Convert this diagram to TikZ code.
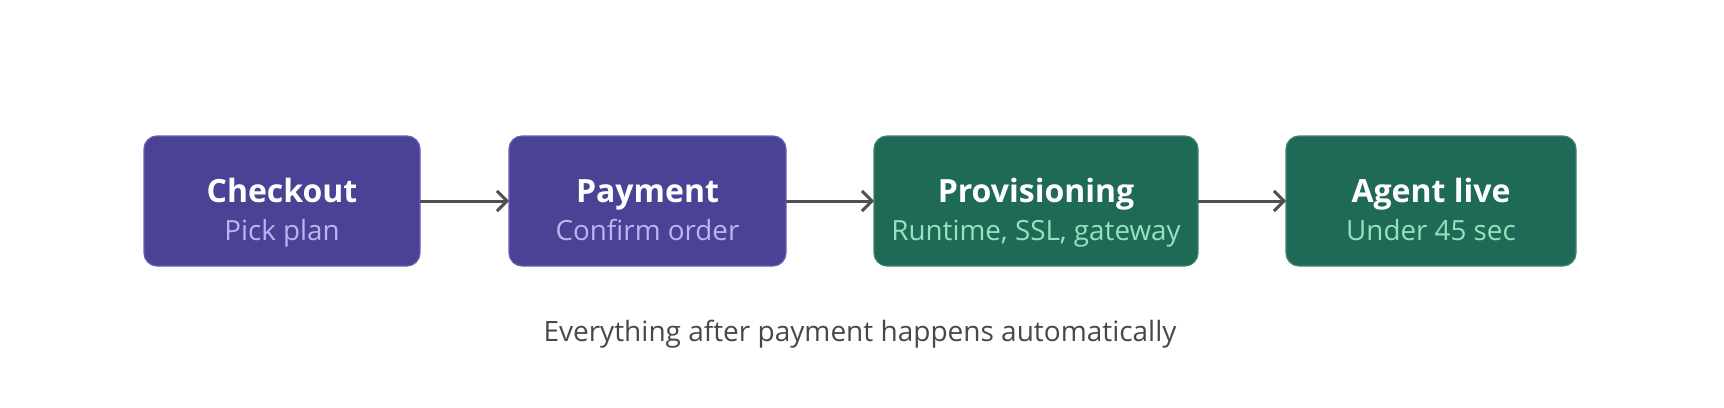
\documentclass[tikz,border=0pt]{standalone}
\usepackage{fontspec}
\setmainfont{Open Sans}
\usetikzlibrary{arrows.meta}
\definecolor{stepPurple}{RGB}{74,66,148}
\definecolor{stepPurpleEdge}{RGB}{104,96,176}
\definecolor{stepPurpleSub}{RGB}{187,180,242}
\definecolor{stepGreen}{RGB}{31,106,86}
\definecolor{stepGreenEdge}{RGB}{64,134,110}
\definecolor{stepGreenSub}{RGB}{152,224,192}
\definecolor{flowGray}{RGB}{80,80,80}
\definecolor{noteGray}{RGB}{72,72,72}
\tikzstyle{every node}=[inner sep=0pt,outer sep=0pt]
\tikzstyle{stagebox}=[rectangle,rounded corners=13pt,minimum height=130pt,line width=1.2pt]
\tikzstyle{purplebox}=[stagebox,fill=stepPurple,draw=stepPurpleEdge]
\tikzstyle{greenbox}=[stagebox,fill=stepGreen,draw=stepGreenEdge]
\tikzstyle{stagetitle}=[anchor=base,text=white,font=\fontsize{32}{38}\selectfont\bfseries]
\tikzstyle{stagesub}=[anchor=base,font=\fontsize{27.8}{32}\selectfont]
\tikzstyle{flow}=[draw=flowGray,line width=3pt,-{Straight Barb[length=10pt,width=20pt,line width=3pt]}]

\begin{document}
\begin{tikzpicture}[x=1pt,y=-1pt]
  \useasboundingbox (0,0) rectangle (1724,407);
  % stages
  \node[purplebox,minimum width=276pt] (checkout) at (282,201) {};
  \node[purplebox,minimum width=277pt] (payment) at (647.5,201) {};
  \node[greenbox,minimum width=324pt] (provisioning) at (1036,201) {};
  \node[greenbox,minimum width=290pt] (agentlive) at (1431,201) {};
  % labels
  \node[stagetitle] (checkout-t) at ([yshift=-1pt]checkout.center) {Checkout};
  \node[stagesub,text=stepPurpleSub] (checkout-s) at ([yshift=-39pt]checkout.center) {Pick plan};
  \node[stagetitle] (payment-t) at ([yshift=-1pt]payment.center) {Payment};
  \node[stagesub,text=stepPurpleSub] (payment-s) at ([yshift=-39pt]payment.center) {Confirm order};
  \node[stagetitle] (provisioning-t) at ([yshift=-1pt]provisioning.center) {Provisioning};
  \node[stagesub,text=stepGreenSub] (provisioning-s) at ([yshift=-39pt]provisioning.center) {Runtime, SSL, gateway};
  \node[stagetitle] (agentlive-t) at ([yshift=-1pt]agentlive.center) {Agent live};
  \node[stagesub,text=stepGreenSub] (agentlive-s) at ([yshift=-39pt]agentlive.center) {Under 45 sec};
  % connectors
  \draw[flow] (checkout.east) -- (payment.west);
  \draw[flow] (payment.east) -- (provisioning.west);
  \draw[flow] (provisioning.east) -- (agentlive.west);
  % note
  \node[anchor=base,text=noteGray,font=\fontsize{28}{33}\selectfont] (note) at (860,341) {Everything after payment happens automatically};
\end{tikzpicture}
\end{document}
